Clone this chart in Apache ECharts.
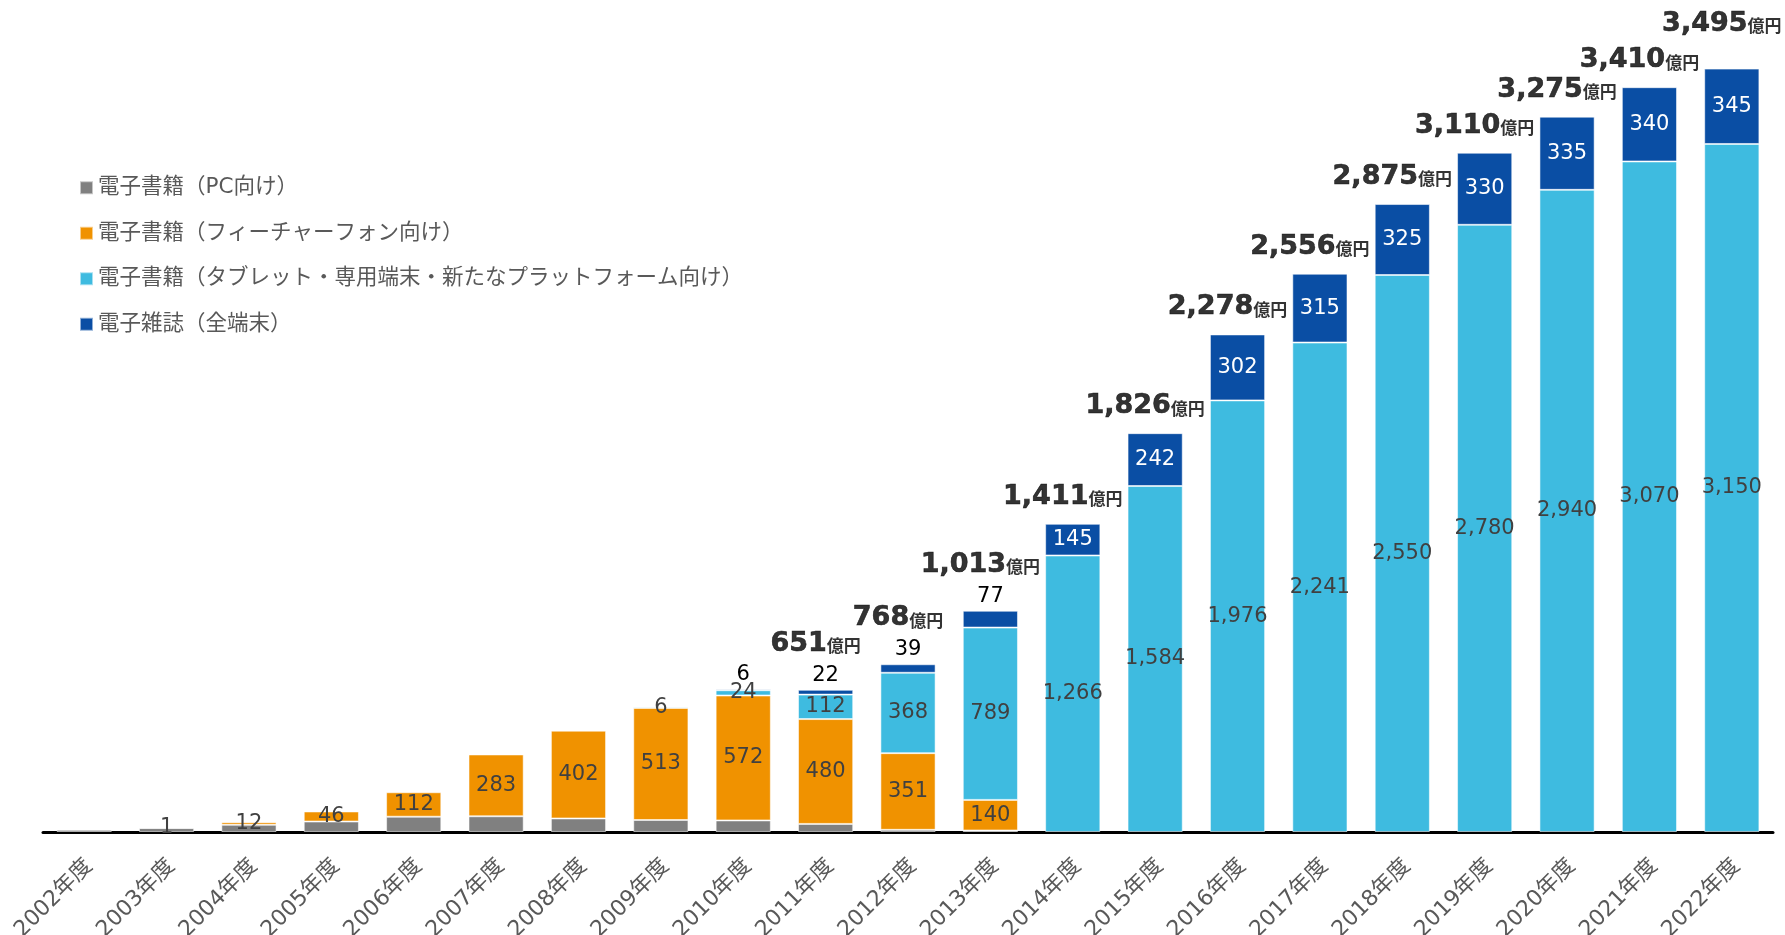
<!DOCTYPE html>
<html>
<head>
<meta charset="utf-8">
<script src="https://cdn.jsdelivr.net/npm/echarts@6/dist/echarts.min.js"></script>
<style>
html,body{margin:0;padding:0;background:#fff;}
#c{width:1785px;height:935px;}
</style>
</head>
<body>
<div id="c"></div>
<script>
const years = ['2002年度','2003年度','2004年度','2005年度','2006年度','2007年度','2008年度','2009年度','2010年度','2011年度','2012年度','2013年度','2014年度','2015年度','2016年度','2017年度','2018年度','2019年度','2020年度','2021年度','2022年度'];
const seriesNames = ['電子書籍（PC向け）','電子書籍（フィーチャーフォン向け）','電子書籍（タブレット・専用端末・新たなプラットフォーム向け）','電子雑誌（全端末）'];
const pcValues       = [10, 18, 33, 48, 70, 72, 62, 55, 53, 37, 10, 7, null, null, null, null, null, null, null, null, null];
const featureValues  = [null, 1, 12, 46, 112, 283, 402, 513, 572, 480, 351, 140, null, null, null, null, null, null, null, null, null];
const tabletValues   = [null, null, null, null, null, null, null, 6, 24, 112, 368, 789, 1266, 1584, 1976, 2241, 2550, 2780, 2940, 3070, 3150];
const magazineValues = [null, null, null, null, null, null, null, null, 6, 22, 39, 77, 145, 242, 302, 315, 325, 330, 335, 340, 345];
const totalValues    = [null, null, null, null, null, null, null, null, null, 651, 768, 1013, 1411, 1826, 2278, 2556, 2875, 3110, 3275, 3410, 3495];

const FONT = "'DejaVu Sans', 'Noto Sans CJK JP', sans-serif";
const colors = ['#808080', '#F09200', '#3EBBE0', '#0A4EA4'];
const fmt = v => Number(v).toLocaleString('en-US');

const segLabel = {
  show: true, position: 'inside', color: '#404040', fontSize: 21, fontFamily: FONT,
  formatter: p => p.value == null ? '' : fmt(p.value)
};
const border = { borderColor: 'rgba(255,255,255,0.55)', borderWidth: 1 };

const magData = magazineValues.map(v => {
  if (v == null) return null;
  if (v < 100) return { value: v, label: { position: 'top', distance: 4, color: '#000' } };
  return { value: v, label: { position: 'inside', color: '#fff' } };
});

const lastIdx = totalValues.length - 1;
const totalData = totalValues.map((v, i) => {
  if (v == null) return null;
  const mag = magazineValues[i];
  let d = 13;
  if (mag != null && mag < 100) d = 32;
  if (i === lastIdx) d = 31;
  return { value: v, label: { distance: d } };
});

const chart = echarts.init(document.getElementById('c'), null, { renderer: 'canvas' });
chart.setOption({
  animation: false,
  textStyle: { fontFamily: FONT },
  grid: { left: 43, right: 12, top: 2, bottom: 103, containLabel: false, outerBoundsMode: 'none' },
  legend: {
    orient: 'vertical', left: 79, top: 177, padding: 0,
    itemWidth: 13, itemHeight: 13, itemGap: 24, icon: 'rect',
    textStyle: { fontSize: 21.5, color: '#595959', fontFamily: FONT, lineHeight: 21.5 },
    data: seriesNames
  },
  xAxis: {
    type: 'category', data: years,
    axisLine: { show: true, lineStyle: { color: '#000', width: 3 } },
    axisTick: { show: false },
    axisLabel: { rotate: 45, interval: 0, fontSize: 22, lineHeight: 14, color: '#595959', margin: 26, verticalAlign: 'top', fontFamily: FONT, hideOverlap: false }
  },
  yAxis: { type: 'value', min: 0, max: 3800, show: false, splitLine: { show: false } },
  series: [
    { name: seriesNames[0], type: 'bar', stack: 't', data: pcValues, barCategoryGap: '33%',
      itemStyle: Object.assign({ color: colors[0] }, border), label: { show: false } },
    { name: seriesNames[1], type: 'bar', stack: 't', data: featureValues,
      itemStyle: Object.assign({ color: colors[1] }, border), label: segLabel },
    { name: seriesNames[2], type: 'bar', stack: 't', data: tabletValues,
      itemStyle: Object.assign({ color: colors[2] }, border), label: segLabel },
    { name: seriesNames[3], type: 'bar', stack: 't', data: magData,
      itemStyle: Object.assign({ color: colors[3] }, border),
      label: Object.assign({}, segLabel, { color: '#fff' }) },
    { name: 'total', type: 'scatter', data: totalData, symbolSize: 1,
      itemStyle: { color: 'rgba(0,0,0,0)' }, z: 10, silent: true,
      label: {
        show: true, position: 'top', offset: [-10, 0], color: '#000',
        formatter: p => '{n|' + fmt(p.value) + '}{u|億円}',
        rich: {
          n: { fontSize: 27, fontWeight: 'bold', color: '#000', fontFamily: FONT, lineHeight: 29, verticalAlign: 'bottom', textBorderColor: '#000', textBorderWidth: 0.6 },
          u: { fontSize: 17, fontWeight: 'bold', color: '#000', fontFamily: FONT, lineHeight: 22, verticalAlign: 'bottom', padding: [0, 0, 1, 0] }
        }
      }
    }
  ]
});
</script>
</body>
</html>
